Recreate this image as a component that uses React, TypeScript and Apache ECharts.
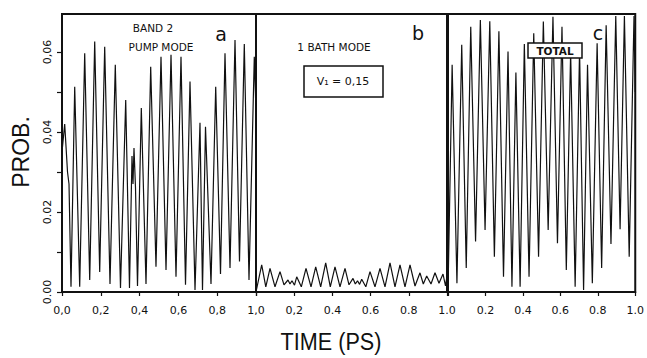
import React, { useEffect, useRef } from "react";
import * as echarts from "echarts";

// Panel a: band 2 pump mode (time in ps, probability) — extrema
const aTime = [0, 0.0139, 0.0284, 0.0361, 0.0464, 0.0655, 0.0912, 0.117, 0.1428, 0.1686, 0.1943, 0.2201, 0.2474, 0.2747, 0.3015, 0.3284, 0.3479, 0.3608, 0.366, 0.3711, 0.3789, 0.3892, 0.4088, 0.433, 0.4572, 0.4845, 0.5103, 0.5361, 0.5619, 0.5876, 0.6134, 0.6366, 0.6598, 0.6856, 0.7113, 0.7242, 0.7397, 0.768, 0.7923, 0.817, 0.8402, 0.866, 0.8918, 0.9149, 0.9397, 0.9639, 0.9912, 1.0];
const aProb = [0.035, 0.042, 0.03, 0.027, 0.0013, 0.0513, 0.0013, 0.0597, 0.003, 0.0626, 0.005, 0.0613, 0.002, 0.0568, 0.001, 0.048, 0.001, 0.034, 0.027, 0.036, 0.026, 0.0015, 0.046, 0.002, 0.0563, 0.0063, 0.0588, 0.0055, 0.0593, 0.0038, 0.0588, 0.0018, 0.0526, 0.0005, 0.0423, 0.0005, 0.0413, 0.002, 0.0513, 0.0045, 0.0597, 0.006, 0.063, 0.0076, 0.062, 0.003, 0.0588, 0.045];

// Panel b: 1 bath mode
const bTime = [0, 0.0298, 0.0513, 0.0733, 0.0995, 0.1257, 0.1466, 0.1675, 0.178, 0.1885, 0.2016, 0.2131, 0.2372, 0.2618, 0.288, 0.3126, 0.3387, 0.3649, 0.389, 0.4136, 0.4398, 0.466, 0.4869, 0.5079, 0.5199, 0.5314, 0.5424, 0.5534, 0.5749, 0.5969, 0.623, 0.6492, 0.6754, 0.7016, 0.7277, 0.7539, 0.7801, 0.8063, 0.8325, 0.8586, 0.8759, 0.8937, 0.9162, 0.9372, 0.9581, 0.9791, 0.9921, 1.0];
const bProb = [0, 0.0068, 0.0013, 0.0059, 0.0013, 0.0051, 0.0018, 0.003, 0.002, 0.0028, 0.0017, 0.0038, 0.0013, 0.0059, 0.0013, 0.0063, 0.0013, 0.0073, 0.0013, 0.0063, 0.0013, 0.0059, 0.0018, 0.0034, 0.002, 0.0028, 0.0019, 0.0032, 0.0013, 0.0051, 0.0013, 0.0059, 0.0013, 0.0073, 0.0013, 0.0068, 0.0013, 0.0068, 0.0015, 0.0048, 0.002, 0.004, 0.002, 0.0048, 0.0022, 0.0045, 0.0015, 0.004];

// Panel c: total
const cTime = [0, 0.0221, 0.0477, 0.0733, 0.0974, 0.1215, 0.1472, 0.1728, 0.1979, 0.2231, 0.2477, 0.2718, 0.2964, 0.3205, 0.3415, 0.3626, 0.3851, 0.4077, 0.4328, 0.4579, 0.4836, 0.5092, 0.5349, 0.5605, 0.5846, 0.6087, 0.6318, 0.6549, 0.679, 0.7026, 0.7241, 0.7451, 0.7708, 0.7964, 0.8205, 0.8446, 0.8703, 0.8959, 0.919, 0.9421, 0.9677, 0.9933, 1.0];
const cProb = [0, 0.0568, 0.0022, 0.0618, 0.006, 0.0663, 0.0126, 0.068, 0.0155, 0.0677, 0.0088, 0.0652, 0.0038, 0.0601, 0.0013, 0.0549, 0.0013, 0.062, 0.0038, 0.0647, 0.0088, 0.0676, 0.0155, 0.0688, 0.0122, 0.0663, 0.0055, 0.06, 0.0013, 0.0605, 0.0005, 0.0568, 0.0022, 0.0622, 0.006, 0.0667, 0.012, 0.069, 0.0157, 0.069, 0.0088, 0.069, 0.05];

// Tick labels
const yTickLabels = ["0.00", "0.02", "0,04", "0,06"];
const aTickLabels = ["0,0", "0,2", "0,4", "0,6", "0,8", "1,0"];
const bTickLabels = ["", "0,2", "0.4", "0.6", "0.8", "1.0"];
const cTickLabels = ["", "0.2", "0.4", "0.6", "0.8", "1.0"];

const FONT = "DejaVu Sans";
const TITLE_FONT = "Liberation Sans";
const INK = "#111";

function pairs(t: number[], v: number[]) {
  return t.map((x, i) => [x, v[i]]);
}

export default function App() {
  const ref = useRef<HTMLDivElement>(null);
  useEffect(() => {
    document.body.style.margin = "0";
    const chart = echarts.init(ref.current!, null, { renderer: "svg" });
    const grids = [
      { left: 62, top: 14, width: 194, height: 278 },
      { left: 256, top: 14, width: 191, height: 278 },
      { left: 448, top: 14, width: 195, height: 278 },
    ].map((g) => ({ ...g, show: true, borderColor: INK, borderWidth: 2, backgroundColor: "transparent", containLabel: false }));

    const labelSets = [aTickLabels, bTickLabels, cTickLabels];
    const xAxes = labelSets.map((labels, i) => ({
      type: "value",
      gridIndex: i,
      min: 0,
      max: 1,
      interval: 0.2,
      axisLine: { show: true, lineStyle: { color: INK, width: 2 } },
      axisTick: { show: true, length: 4, lineStyle: { color: INK, width: 1.2 } },
      splitLine: { show: false },
      axisLabel: {
        color: INK,
        fontFamily: FONT,
        fontSize: 11,
        margin: 13,
        formatter: (v: number) => labels[Math.round(v * 5)] ?? "",
      },
    }));

    const yAxes = [0, 1, 2].map((i) => ({
      type: "value",
      gridIndex: i,
      min: 0,
      max: 0.0695,
      interval: 0.01,
      show: i === 0,
      axisLine: { show: true, lineStyle: { color: INK, width: 2 } },
      axisTick: { show: true, length: 5, lineStyle: { color: INK, width: 1.2 } },
      splitLine: { show: false },
      axisLabel: {
        show: i === 0,
        rotate: 90,
        color: INK,
        fontFamily: FONT,
        fontSize: 11,
        margin: 9,
        showMaxLabel: false,
        formatter: (v: number) => {
          const k = Math.round(v * 100);
          return k % 2 === 0 ? yTickLabels[k / 2] ?? "" : "";
        },
      },
    }));

    const lineSeries = [pairs(aTime, aProb), pairs(bTime, bProb), pairs(cTime, cProb)].map((data, i) => ({
      type: "line",
      xAxisIndex: i,
      yAxisIndex: i,
      data,
      showSymbol: false,
      lineStyle: { color: INK, width: 1.2 },
      z: 2,
    }));

    const txt = (text: string, x: number, y: number, size: number, extra: any = {}) => ({
      type: "text",
      x,
      y,
      z: 100,
      ...extra,
      style: { text, fill: INK, fontFamily: FONT, fontSize: size, align: "center", verticalAlign: "middle", ...(extra.style || {}) },
    });

    chart.setOption({
      animation: false,
      backgroundColor: "#fff",
      grid: grids,
      xAxis: xAxes,
      yAxis: yAxes,
      series: lineSeries,
      graphic: [
        txt("PROB.", 21, 152, 23, { rotation: Math.PI / 2, style: { fontFamily: TITLE_FONT } }),
        txt("TIME (PS)", 331, 342, 24, { scaleX: 0.9, style: { fontFamily: TITLE_FONT } }),
        txt("BAND 2", 153, 28, 10.5),
        txt("PUMP MODE", 161, 47, 10.5),
        txt("a", 221, 34, 19),
        txt("1 BATH MODE", 334, 47, 10.5),
        txt("b", 418, 33, 19),
        {
          type: "rect",
          z: 99,
          shape: { x: 304, y: 66, width: 79, height: 31 },
          style: { fill: "#fff", stroke: INK, lineWidth: 1.5 },
        },
        txt("V₁ = 0,15", 343, 81, 11),
        txt("c", 598, 33, 19),
        {
          type: "rect",
          z: 99,
          shape: { x: 528, y: 43, width: 54, height: 15 },
          style: { fill: "#fff", stroke: INK, lineWidth: 1.5 },
        },
        txt("TOTAL", 555, 51, 10.5, { style: { fontWeight: "bold" } }),
      ],
    });
    return () => chart.dispose();
  }, []);
  return <div ref={ref} style={{ width: 647, height: 358 }} />;
}
